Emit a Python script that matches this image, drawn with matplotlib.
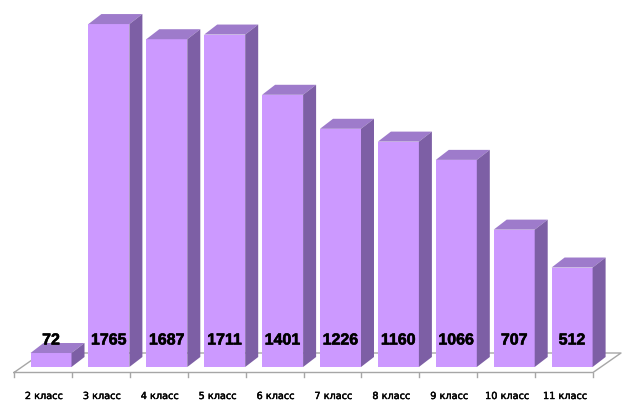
import matplotlib
matplotlib.use("Agg")
import matplotlib.pyplot as plt
import matplotlib.patheffects as pe
from matplotlib.patches import Polygon

# data
categories = ["2 класс", "3 класс", "4 класс", "5 класс", "6 класс",
              "7 класс", "8 класс", "9 класс", "10 класс", "11 класс"]
values = [72, 1765, 1687, 1711, 1401, 1226, 1160, 1066, 707, 512]

FRONT = "#CC99FF"
TOP = "#9E7BCB"
SIDE = "#7D5FA5"
FLOOR = "#A6A6A6"

W, H = 627, 414
# pixel scale of one category slot / one value unit
PX_X = 57.9
PX_Y = 0.1943
X0_PX = 51      # pixel x of first bar centre
Y0_PX = 368     # pixel y of bar bottoms

BAR_W = 41 / PX_X
BDX, BDY = 13 / PX_X, 10 / PX_Y          # bar depth
FDX, FDY = 28 / PX_X, 19.5 / PX_Y        # floor depth
FLOOR_Y = -(373.5 - Y0_PX) / PX_Y
FLOOR_X0 = (14 - X0_PX) / PX_X
TICK_LEN = 4.5 / PX_Y

fig = plt.figure(figsize=(W / 100, H / 100), dpi=100, facecolor="white")
ax = fig.add_axes([0, 0, 1, 1])
ax.set_xlim(-X0_PX / PX_X, (W - X0_PX) / PX_X)
ax.set_ylim(-(H - Y0_PX) / PX_Y, Y0_PX / PX_Y)
ax.axis("off")

# floor
n = len(values)
fx0, fx1 = FLOOR_X0, FLOOR_X0 + n
ax.plot([fx0, fx1, fx1 + FDX, fx0 + FDX, fx0],
        [FLOOR_Y, FLOOR_Y, FLOOR_Y + FDY, FLOOR_Y + FDY, FLOOR_Y],
        color=FLOOR, lw=1.0, zorder=1)
for k in range(n + 1):
    ax.plot([fx0 + k, fx0 + k], [FLOOR_Y, FLOOR_Y - TICK_LEN],
            color=FLOOR, lw=1.0, zorder=1)

heavy = [pe.withStroke(linewidth=0.4, foreground="black")]
semi = [pe.withStroke(linewidth=0.3, foreground="black")]

# bars
for i, v in enumerate(values):
    l, r = i - BAR_W / 2, i + BAR_W / 2
    front = Polygon([(l, 0), (r, 0), (r, v), (l, v)], closed=True,
                    facecolor=FRONT, edgecolor="none", zorder=3)
    top = Polygon([(l, v), (r, v), (r + BDX, v + BDY), (l + BDX, v + BDY)],
                  closed=True, facecolor=TOP, edgecolor="none", zorder=3)
    side = Polygon([(r, 0), (r + BDX, BDY), (r + BDX, v + BDY), (r, v)],
                   closed=True, facecolor=SIDE, edgecolor="none", zorder=3)
    for p in (front, top, side):
        ax.add_patch(p)
    ax.text(i, 27 / PX_Y, str(v), ha="center", va="center",
            fontsize=11.5, fontweight="bold", family="Liberation Sans",
            color="black", zorder=5, path_effects=heavy)
    ax.text(i - 7 / PX_X, -29 / PX_Y, categories[i], ha="center", va="center",
            fontsize=7, family="DejaVu Sans", color="black", zorder=5,
            path_effects=semi)

fig.savefig("out.png", dpi=100, facecolor="white")
